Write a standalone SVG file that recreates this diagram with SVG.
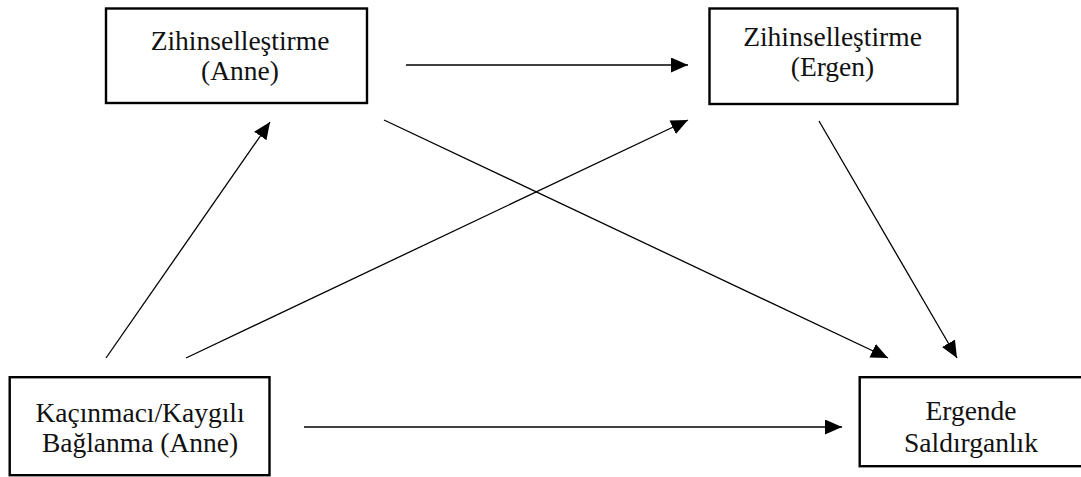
<svg xmlns="http://www.w3.org/2000/svg" width="1081" height="477" viewBox="0 0 1081 477">
<style>
.box{fill:#fff;stroke:#000;stroke-width:2.4}
.t{font-family:"Liberation Serif","Times New Roman",serif;font-size:27.5px;fill:#111;text-anchor:middle}
.c{stroke:#000;stroke-width:1.3;fill:none;marker-end:url(#ah)}
</style>
<defs>
<marker id="ah" viewBox="0 0 17 15" refX="17" refY="7.5" markerWidth="17" markerHeight="15" markerUnits="userSpaceOnUse" orient="auto">
<path d="M0,0 L17,7.5 L0,15 Z" fill="#000"/>
</marker>
</defs>
<rect width="1081" height="477" fill="#fff"/>
<g id="node-zihin-anne">
<rect class="box" x="106" y="8.5" width="261" height="94.5"/>
<text class="t" x="240" y="49.5">Zihinselleştirme</text>
<text class="t" x="240" y="79.5">(Anne)</text>
</g>
<g id="node-zihin-ergen">
<rect class="box" x="709.5" y="8.5" width="248" height="95.5"/>
<text class="t" x="832.5" y="45.5">Zihinselleştirme</text>
<text class="t" x="832.5" y="76">(Ergen)</text>
</g>
<g id="node-baglanma">
<rect class="box" x="9.7" y="377.2" width="259.8" height="98"/>
<text class="t" x="140" y="421.7">Kaçınmacı/Kaygılı</text>
<text class="t" x="140" y="452">Bağlanma (Anne)</text>
</g>
<g id="node-saldirganlik">
<rect class="box" x="859.7" y="377.2" width="240" height="89"/>
<text class="t" x="971" y="420">Ergende</text>
<text class="t" x="971" y="451.7">Saldırganlık</text>
</g>
<g id="connectors">
<line class="c" x1="406" y1="65" x2="688" y2="65"/>
<line class="c" x1="106" y1="358" x2="270" y2="122"/>
<line class="c" x1="186" y1="358" x2="688" y2="120"/>
<line class="c" x1="384" y1="120" x2="888" y2="358"/>
<line class="c" x1="819" y1="121" x2="957" y2="358"/>
<line class="c" x1="304" y1="427" x2="842" y2="427"/>
</g>
</svg>
